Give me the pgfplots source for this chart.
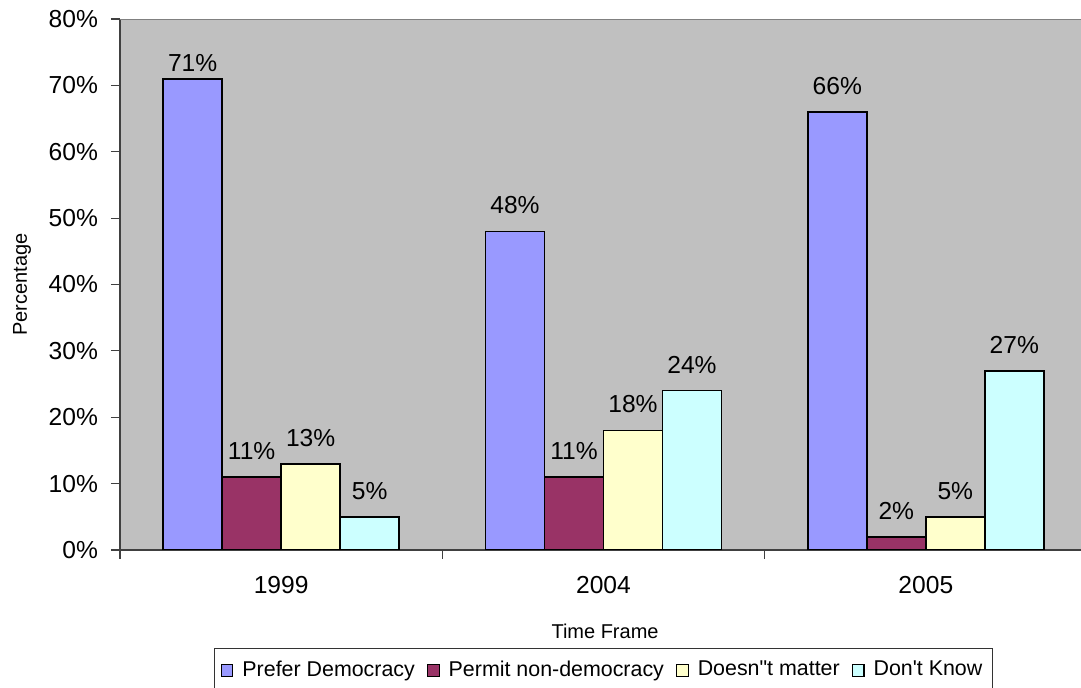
\documentclass[border=0pt]{standalone}
\usepackage{pgfplots}
\pgfplotsset{compat=1.18}
\usepackage{fontspec}
\setmainfont{Liberation Sans}

\definecolor{prefer}{HTML}{9999FF}
\definecolor{permit}{HTML}{993366}
\definecolor{doesnt}{HTML}{FFFFCC}
\definecolor{dontknow}{HTML}{CCFFFF}
\definecolor{plotbg}{HTML}{C0C0C0}

\begin{document}
\begin{tikzpicture}
\begin{axis}[
  at={(0,0)}, anchor=south west,
  scale only axis,
  width=483.5pt, height=265.5pt,
  xmin=-0.5, xmax=2.5,
  ymin=0, ymax=80,
  axis background/.style={fill=plotbg},
  axis lines*=left,
  axis line style={black!75, line width=0.8pt},
  ybar=0pt,
  bar width=29.5pt,
  xtick={-0.5,0.5,1.5,2.5},
  xticklabels={1999,2004,2005},
  x tick label as interval,
  ytick={0,10,...,80},
  yticklabel={\pgfmathprintnumber{\tick}\%},
  /pgf/number format/assume math mode=true,
  tick align=outside,
  major tick length=4.5pt,
  tick style={black!75, line width=0.6pt},
  tick label style={font=\fontsize{12.3}{14}\selectfont},
  yticklabel style={xshift=-3pt},
  xticklabel style={yshift=-5pt},
  every axis y label/.style={at={(axis description cs:-0.1013,0.5)}, rotate=90, anchor=center, font=\fontsize{10}{12}\selectfont},
  every axis x label/.style={at={(axis description cs:0.5016,-0.1525)}, anchor=center, font=\fontsize{10}{12}\selectfont},
  ylabel={Percentage},
  xlabel={Time Frame},
  legend columns=4,
  legend style={at={(axis description cs:0.5,-0.1846)}, anchor=north,
    draw=black!80, line width=0.5pt, font=\fontsize{10.7}{12}\selectfont,
    /tikz/every odd column/.append style={column sep=2.5pt},
    /tikz/every even column/.append style={column sep=4pt},
    inner xsep=3pt, inner ysep=4pt},
  legend image code/.code={\draw[#1, line width=0.6pt] (0pt,-3.3pt) rectangle (5.8pt,2.5pt);},
  nodes near coords={\pgfmathprintnumber{\pgfplotspointmeta}\%},
  visualization depends on={y \as \rawy},
  every node near coord/.append style={font=\fontsize{12.3}{14}\selectfont, text=black,
    yshift={ifthenelse(\rawy>70,0,5)}},
  every axis plot/.append style={draw=black, line width=0.8pt},
]
\addplot[fill=prefer] coordinates {(0,71) (1,48) (2,66)};
\addlegendentry{Prefer Democracy}
\addplot[fill=permit] coordinates {(0,11) (1,11) (2,2)};
\addlegendentry{Permit non-democracy}
\addplot[fill=doesnt] coordinates {(0,13) (1,18) (2,5)};
\addlegendentry{Doesn\textquotedbl t matter}
\addplot[fill=dontknow] coordinates {(0,5) (1,24) (2,27)};
\addlegendentry{Don\textquotesingle t Know}
\draw[black!50, line width=0.8pt] (rel axis cs:0,1) -- (rel axis cs:1,1);
\end{axis}
\pgfresetboundingbox
\useasboundingbox (-60pt,-69pt) rectangle (480.5pt,275pt);
\end{tikzpicture}
\end{document}
